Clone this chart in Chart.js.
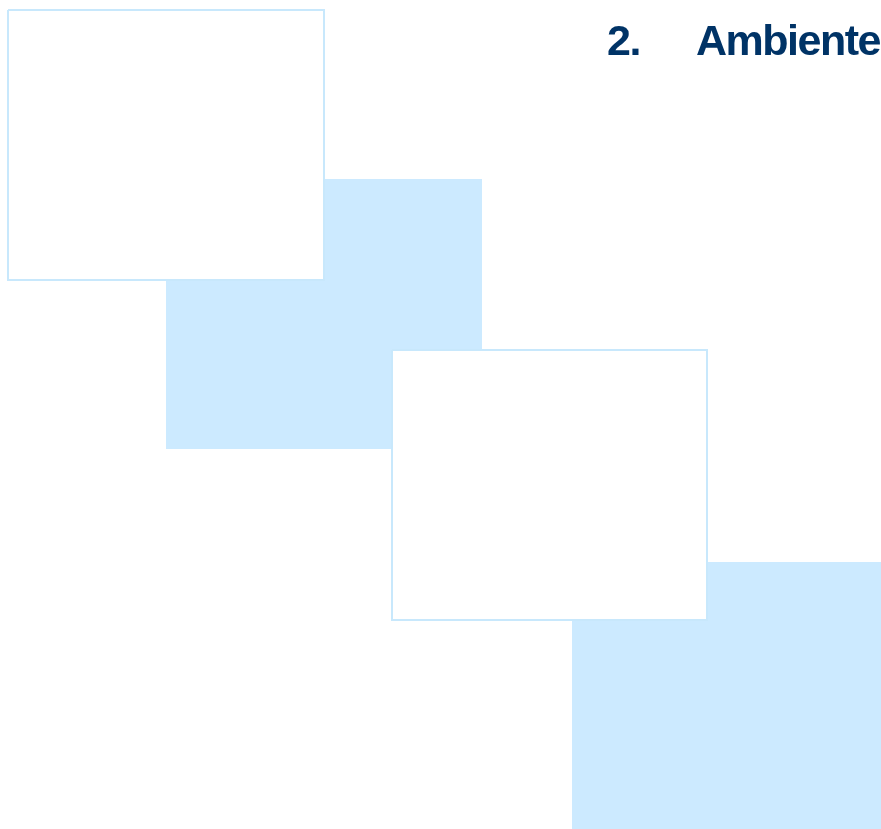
<!DOCTYPE html>
<html lang="es">
<head>
<meta charset="utf-8">
<title>2. Ambiente</title>
<script src="https://cdn.jsdelivr.net/npm/chart.js@4"></script>
<style>
  html, body { margin: 0; padding: 0; background: #ffffff; }
  #wrap { position: relative; width: 881px; height: 829px; overflow: hidden; }
  #chart { position: absolute; left: 0; top: 0; }
  .ttl { position: absolute; top: 19px; margin: 0; font-family: "Liberation Sans", Arial, sans-serif;
         font-weight: bold; font-size: 43px; line-height: 43px; color: #003366; letter-spacing: -1.5px; white-space: nowrap; }
  #num { left: 607px; }
  #word { left: 696px; }
</style>
</head>
<body>
<div id="wrap">
  <canvas id="chart" width="881" height="829"></canvas>
  <div class="ttl" id="num">2.</div>
  <div class="ttl" id="word">Ambiente</div>
</div>
<script>
// Rectangles (in picture units)
const rectNames  = ['Marco 1', 'Bloque 1', 'Marco 2', 'Bloque 2'];
const rectLeft   = [8, 166, 392, 572];
const rectTop    = [10, 179, 350, 562];
const rectRight  = [324, 482, 707, 881];
const rectBottom = [280, 449, 620, 829];
const rectKind   = ['frame', 'block', 'frame', 'block'];

const LIGHT = '#cceaff';
const EDGE = '#c8e8fc';

function corners(i) {
  return [
    { x: rectLeft[i],  y: rectTop[i] },
    { x: rectRight[i], y: rectTop[i] },
    { x: rectRight[i], y: rectBottom[i] },
    { x: rectLeft[i],  y: rectBottom[i] },
    { x: rectLeft[i],  y: rectTop[i] }
  ];
}

// dataset 0 is drawn on top; frames sit above blocks
const drawOrder = [0, 2, 1, 3];
const datasets = drawOrder.map(i => ({
  label: rectNames[i],
  data: corners(i),
  showLine: true,
  tension: 0,
  pointRadius: 0,
  pointHoverRadius: 0,
  fill: 'shape',
  backgroundColor: rectKind[i] === 'frame' ? '#ffffff' : LIGHT,
  borderColor: rectKind[i] === 'frame' ? EDGE : LIGHT,
  borderWidth: rectKind[i] === 'frame' ? 2 : 0,
  borderJoinStyle: 'miter'
}));

new Chart(document.getElementById('chart'), {
  type: 'scatter',
  data: { datasets },
  options: {
    responsive: false,
    animation: false,
    layout: { padding: 0 },
    plugins: { legend: { display: false }, tooltip: { enabled: false }, title: { display: false } },
    events: [],
    scales: {
      x: { type: 'linear', min: 0, max: 881, display: false },
      y: { type: 'linear', min: 0, max: 829, reverse: true, display: false }
    }
  }
});
</script>
</body>
</html>
